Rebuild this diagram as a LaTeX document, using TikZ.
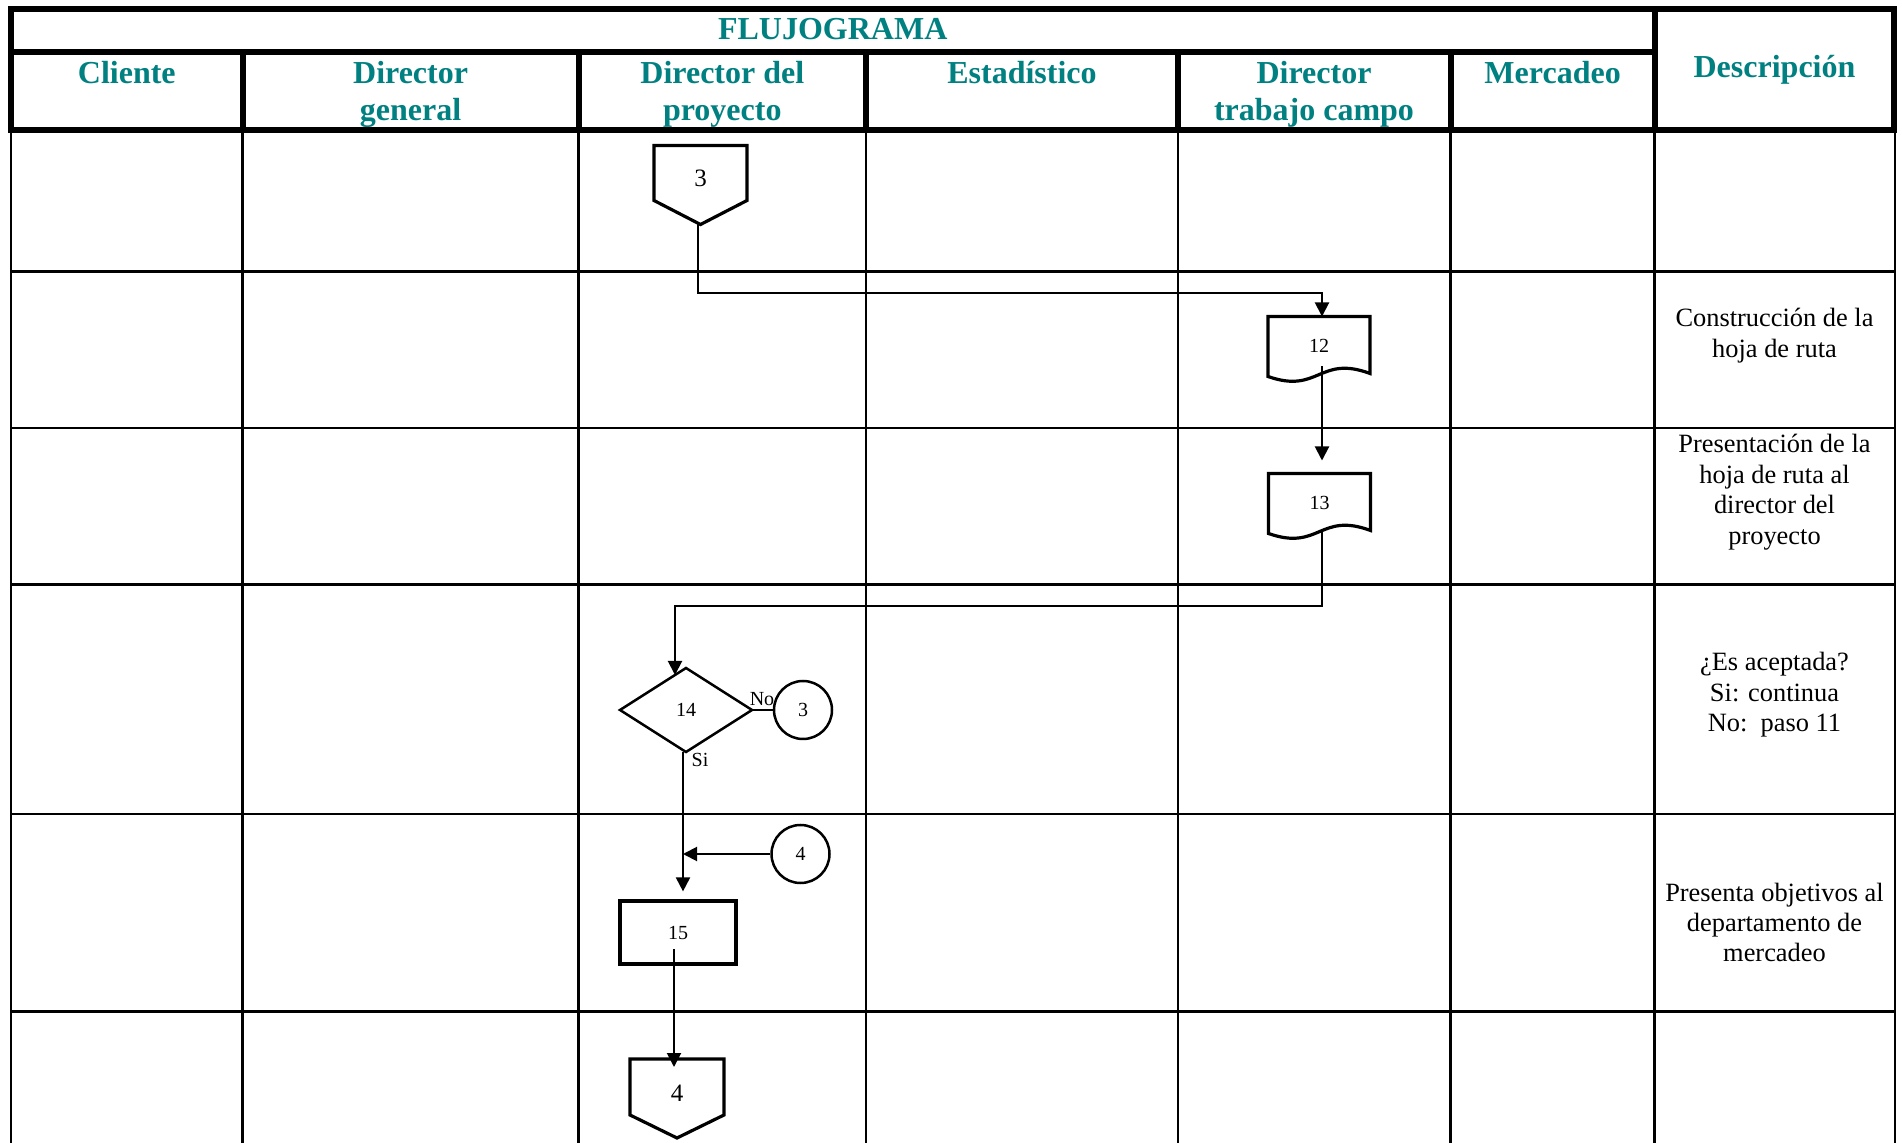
\documentclass[tikz,border=0pt]{standalone}
\usepackage{fontspec}
\setmainfont{Liberation Serif}
\usetikzlibrary{arrows.meta,calc}
\definecolor{hdrteal}{RGB}{0,128,128}
\begin{document}
\begin{tikzpicture}[x=0.5pt,y=-0.5pt,
  frameline/.style={line width=3pt},
  gridline/.style={line width=1.25pt},
  hdrtext/.style={font=\fontsize{16}{18.5}\selectfont\bfseries, text=hdrteal, align=center, inner sep=0pt, anchor=base},
  desctext/.style={font=\fontsize{13.2}{15.2}\selectfont, align=center, inner sep=0pt, anchor=base},
  smalltext/.style={font=\fontsize{10}{12}\selectfont, inner sep=0pt},
  bigtext/.style={font=\fontsize{12.5}{15}\selectfont, inner sep=0pt},
  shapeline/.style={line width=1.6pt},
  thinshape/.style={line width=1.25pt},
  holder/.style={inner sep=0pt, outer sep=0pt},
  conn/.style={line width=1pt, -{Triangle[length=7pt,width=7pt]}},
  plainconn/.style={line width=1pt}
]
\useasboundingbox (0,0) rectangle (1902,1143);

% ---- body grid ----
\foreach \gx in {11,242.6,578.6,866,1177.8,1450.7,1654.5,1895}
  \draw[gridline] (\gx,130.5) -- (\gx,1143);
\foreach \gy in {271.7,428.2,584.7,814,1011.6}
  \draw[gridline] (11,\gy) -- (1895,\gy);

% ---- header frame ----
\draw[frameline] (11,9) rectangle (1893.5,130.5);
\draw[frameline] (11,52) -- (1654.5,52);
\foreach \gx in {242.6,578.6,866,1177.8,1450.7}
  \draw[frameline] (\gx,52) -- (\gx,130.5);
\draw[frameline] (1654.5,9) -- (1654.5,130.5);

% ---- header texts (anchor = baseline of the last line) ----
\node[hdrtext] (hflujo) at (832.7,40) {FLUJOGRAMA};
\node[hdrtext] (hcli) at (126.8,84) {Cliente};
\node[hdrtext] (hdg) at (410.6,121) {Director\\general};
\node[hdrtext] (hdp) at (722.3,121) {Director del\\proyecto};
\node[hdrtext] (hest) at (1022,84) {Estadístico};
\node[hdrtext] (hdtc) at (1314,121) {Director\\trabajo campo};
\node[hdrtext] (hmer) at (1552.6,84) {Mercadeo};
\node[hdrtext] (hdesc) at (1774.5,78) {Descripción};

% ---- description texts (anchor = baseline of the last line) ----
\node[desctext] (t1) at (1774.5,357.4) {Construcción de la\\hoja de ruta};
\node[desctext] (t2) at (1774.5,544.2) {Presentación de la\\hoja de ruta al\\director del\\proyecto};
\node[desctext] (t3) at (1774.5,731.8) {¿Es aceptada?\\Si: continua\\No:\ \ paso 11};
\node[desctext] (t4) at (1774.5,961.8) {Presenta objetivos al\\departamento de\\mercadeo};

% ---- off-page connector 3 ----
\node[holder, minimum width=46.5pt, minimum height=39.5pt] (c3) at (700.5,185) {};
\draw[shapeline, line join=miter] (c3.north west) -- (c3.north east) -- ($(c3.north east)+(0,55)$)
  -- (c3.south) -- ($(c3.north west)+(0,55)$) -- cycle;
\node[bigtext] (c3t) at ($(c3.north)+(0,33)$) {3};

% ---- document 12 ----
\node[holder, minimum width=51pt, minimum height=29.5pt, smalltext] (d12) at (1319,346) {12};
\draw[shapeline] ($(d12.north west)+(0,60)$) -- (d12.north west) -- (d12.north east)
  -- ($(d12.north east)+(0,57)$) .. controls ($(d12.north)+(0,38)$) and ($(d12.north)+(0,78)$) .. ($(d12.north west)+(0,60)$) -- cycle;

% ---- document 13 ----
\node[holder, minimum width=51pt, minimum height=29.5pt, smalltext] (d13) at (1319.5,503) {13};
\draw[shapeline] ($(d13.north west)+(0,60)$) -- (d13.north west) -- (d13.north east)
  -- ($(d13.north east)+(0,57)$) .. controls ($(d13.north)+(0,38)$) and ($(d13.north)+(0,78)$) .. ($(d13.north west)+(0,60)$) -- cycle;

% ---- decision 14 ----
\node[holder, minimum width=66pt, minimum height=42pt, smalltext] (d14) at (686,710) {14};
\draw[thinshape] (d14.north) -- (d14.east) -- (d14.south) -- (d14.west) -- cycle;

% ---- connector circle 3 ----
\node[circle, draw, thinshape, minimum size=29pt, inner sep=0pt, font=\fontsize{10}{12}\selectfont] (n3) at (803,710) {3};
\node[smalltext] (lno) at (762,699) {No};
\node[smalltext] (lsi) at (700,760) {Si};

% ---- connector circle 4 ----
\node[circle, draw, thinshape, minimum size=29pt, inner sep=0pt, font=\fontsize{10}{12}\selectfont] (n4) at (800.5,854) {4};

% ---- process 15 ----
\node[draw, shapeline, minimum width=58pt, minimum height=31.5pt, inner sep=0pt, font=\fontsize{10}{12}\selectfont] (b15) at (678,932.5) {15};

% ---- off-page connector 4 ----
\node[holder, minimum width=47pt, minimum height=39.5pt] (c4) at (677,1098.5) {};
\draw[shapeline, line join=miter] (c4.north west) -- (c4.north east) -- ($(c4.north east)+(0,56)$)
  -- (c4.south) -- ($(c4.north west)+(0,56)$) -- cycle;
\node[bigtext] (c4t) at ($(c4.north)+(0,34)$) {4};

% ---- connectors ----
\draw[conn] ($(c3.south)+(-3,0)$) -- ($(c3.south)+(-3,69)$) -| ($(d12.north)+(3,0)$);
\draw[conn, shorten >=6.5pt] ($(d12.north)+(3,50)$) -- ($(d13.north)+(2.5,0)$);
\draw[conn] ($(d13.north)+(2.5,57)$) |- ($(d14.north)+(-11,-62)$) -- ($(d14.north)+(-11,7)$);
\draw[plainconn] (d14.east) -- (n3);
\draw[conn, shorten >=4pt] ($(d14.south)+(-3,0)$) -- ($(d14.south |- b15.north)+(-3,0)$);
\draw[conn] (n4.west) -- ($(n4.west -| d14.south)+(-3,0)$);
\draw[conn] ($(b15.center)+(-4,17)$) -- ($(c4.north)+(-3,8)$);

\end{tikzpicture}
\end{document}
